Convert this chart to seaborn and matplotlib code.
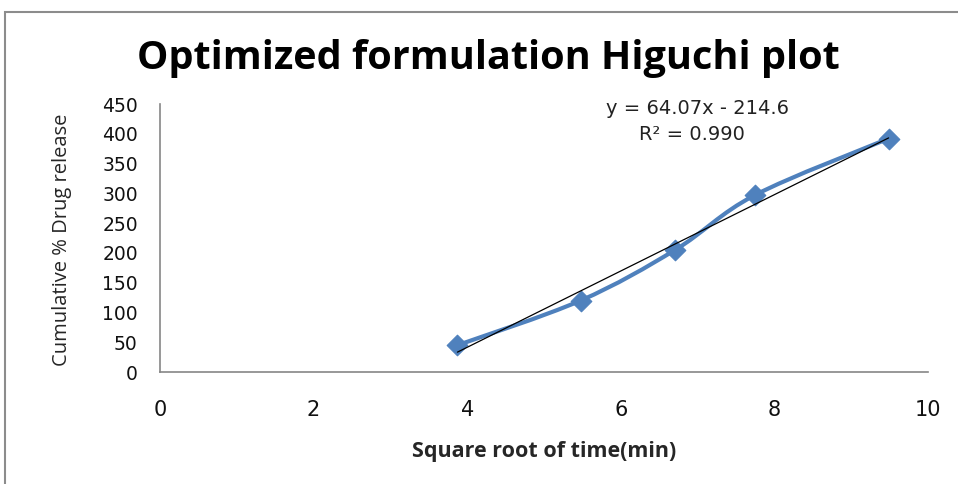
import numpy as np
import pandas as pd
import seaborn as sns
import matplotlib
matplotlib.use("Agg")
import matplotlib.pyplot as plt
from matplotlib.path import Path
from matplotlib.patches import PathPatch, Rectangle

# ---- data ----
sqrt_time = [3.873, 5.477, 6.708, 7.746, 9.487]
cum_release = [45, 120, 205, 297, 392]
x_ticks = [0, 2, 4, 6, 8, 10]
y_ticks = [0, 50, 100, 150, 200, 250, 300, 350, 400, 450]
title = "Optimized formulation Higuchi plot"
xlabel = "Square root of time(min)"
ylabel = "Cumulative % Drug release"
eq_text = "y = 64.07x - 214.6"
r2_text = "R² = 0.990"

df = pd.DataFrame({"x": sqrt_time, "y": cum_release})

sns.set_theme(style="white")
plt.rcParams['font.family'] = ['DejaVu Sans']

fig = plt.figure(figsize=(9.58, 4.84), dpi=100)
ax = fig.add_axes([160/958, 1-372/484, (928-160)/958, (372-104)/484])

blue = "#4F81BD"

# smoothed line (Excel-style) through the data points via Bezier path
xs = np.array(sqrt_time, float)
ys = np.array(cum_release, float)
n = len(xs)
verts = [(xs[0], ys[0])]
codes = [Path.MOVETO]
t = 1/6
for i in range(n - 1):
    p0 = (xs[i-1], ys[i-1]) if i > 0 else (xs[i], ys[i])
    p1 = (xs[i], ys[i])
    p2 = (xs[i+1], ys[i+1])
    p3 = (xs[i+2], ys[i+2]) if i + 2 < n else (xs[i+1], ys[i+1])
    c1 = (p1[0] + (p2[0]-p0[0])*t, p1[1] + (p2[1]-p0[1])*t)
    c2 = (p2[0] - (p3[0]-p1[0])*t, p2[1] - (p3[1]-p1[1])*t)
    verts += [c1, c2, p2]
    codes += [Path.CURVE4]*3
ax.add_patch(PathPatch(Path(verts, codes), facecolor="none", edgecolor=blue,
                       lw=3, zorder=3, capstyle="round", joinstyle="round"))

sns.scatterplot(data=df, x="x", y="y", ax=ax, marker="D", s=110, color=blue,
                edgecolor=blue, zorder=4, legend=False)

# linear trendline
coef = np.polyfit(xs, ys, 1)
tx = np.array([xs.min(), xs.max()])
ax.plot(tx, np.polyval(coef, tx), color="black", lw=0.9, zorder=5)

ax.set_xlim(0, 10)
ax.set_ylim(0, 450)
ax.set_xticks(x_ticks)
ax.set_yticks(y_ticks)
ax.set_xticklabels([str(v) for v in x_ticks], fontsize=15, family=["Liberation Sans Narrow", "DejaVu Sans"])
ax.set_yticklabels([str(v) for v in y_ticks], fontsize=13.5)
ax.tick_params(axis="x", length=0, pad=20, colors="#111111")
ax.tick_params(axis="y", length=0, pad=16, colors="#111111")
ax.set_xlabel("")
ax.set_ylabel("")

for s in ["top", "right"]:
    ax.spines[s].set_visible(False)
for s in ["left", "bottom"]:
    ax.spines[s].set_color("#868686")
    ax.spines[s].set_linewidth(1.2)

fig.text(488/958, 1-58/484, title, ha="center", va="center", fontsize=28.5,
         fontweight="bold", family=["Open Sans", "DejaVu Sans"], color="black")
fig.text(544/958, 1-451/484, xlabel, ha="center", va="center", fontsize=15.5,
         fontweight="bold", family=["Open Sans", "DejaVu Sans"])
fig.text(62/958, 1-240/484, ylabel, ha="center", va="center", fontsize=14.5,
         rotation=90, family=["Open Sans", "DejaVu Sans"])
fig.text(697/958, 1-108/484, eq_text, ha="center", va="center", fontsize=14, color="#222222")
fig.text(692/958, 1-134/484, r2_text, ha="center", va="center", fontsize=14, color="#222222")

# chart frame
fig.patches.append(Rectangle((5/958, -0.1), 1.2, 1 - 12/484 + 0.1, transform=fig.transFigure,
                             fill=False, edgecolor="#8c8c8c", lw=1.5))

fig.savefig("out.png", dpi=100)
